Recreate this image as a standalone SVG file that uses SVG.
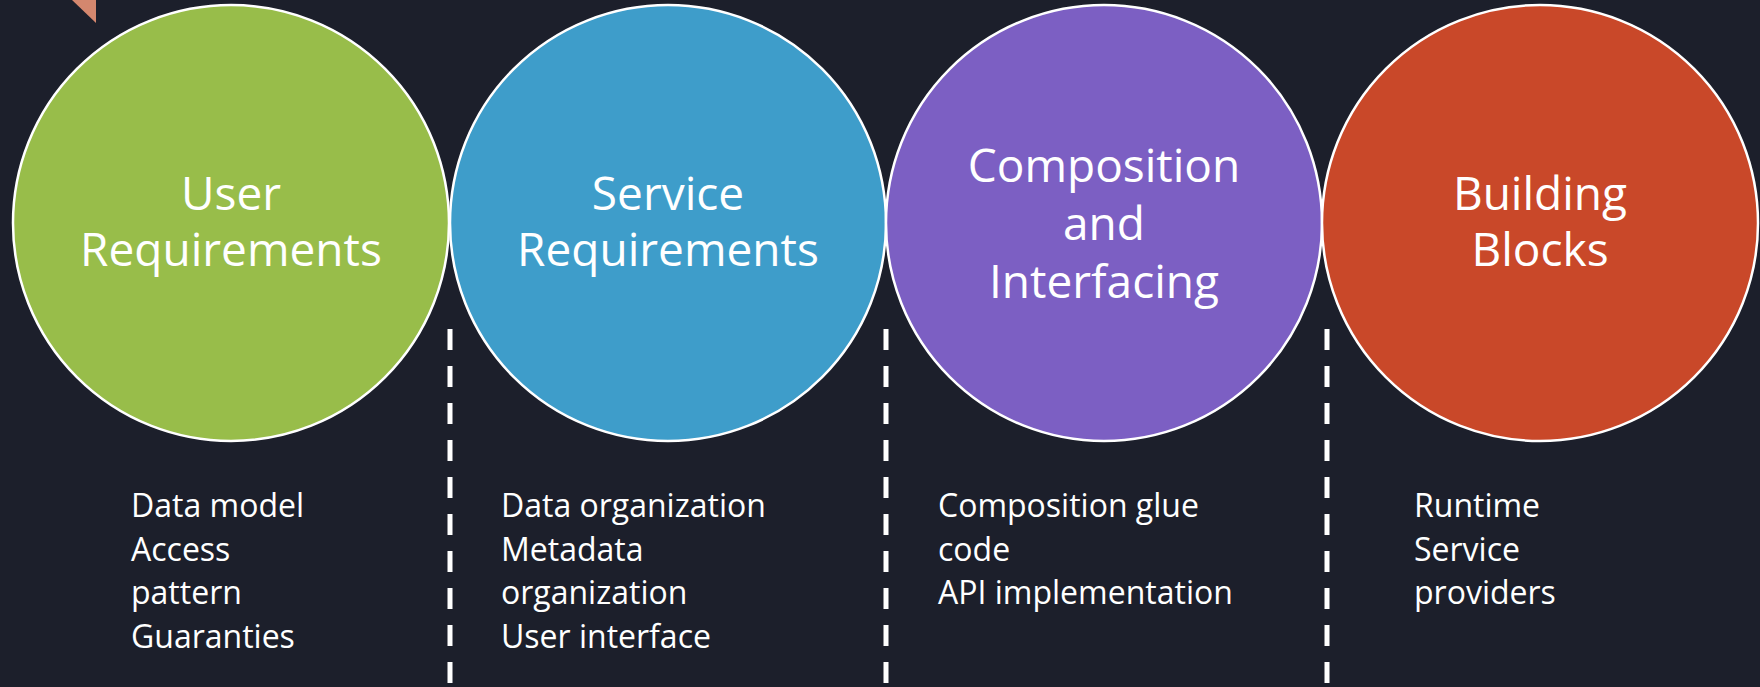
<svg xmlns="http://www.w3.org/2000/svg" width="1760" height="687" viewBox="0 0 1760 687">
  <style>
    .bg { fill: #1c1f2b; }
    .stage { stroke: #ffffff; stroke-width: 2.5; }
    .title { font-family: "Open Sans", "Liberation Sans", sans-serif; font-size: 46px; fill: #ffffff; text-anchor: middle; }
    .items { font-family: "Open Sans", "Liberation Sans", sans-serif; font-size: 32px; fill: #ffffff; }
    .divider { stroke: #ffffff; stroke-width: 5; stroke-dasharray: 21 16; fill: none; }
  </style>

  <rect class="bg" x="0" y="0" width="1760" height="687"/>

  <!-- corner accent -->
  <polygon points="72,0 96,0 96,23" fill="#d4876e"/>

  <!-- separators between the stages -->
  <g id="connectors">
    <line class="divider" x1="450" y1="329" x2="450" y2="687"/>
    <line class="divider" x1="886" y1="329" x2="886" y2="687"/>
    <line class="divider" x1="1327" y1="329" x2="1327" y2="687"/>
  </g>

  <g id="user-requirements">
    <circle class="stage" cx="231" cy="223" r="218" fill="#98bd4a"/>
    <text class="title" x="231" y="210">User</text>
    <text class="title" x="231" y="266">Requirements</text>
    <text class="items" x="131" y="517">Data model</text>
    <text class="items" x="131" y="561">Access</text>
    <text class="items" x="131" y="604">pattern</text>
    <text class="items" x="131" y="648">Guaranties</text>
  </g>

  <g id="service-requirements">
    <circle class="stage" cx="668" cy="223" r="218" fill="#3e9dca"/>
    <text class="title" x="668" y="210">Service</text>
    <text class="title" x="668" y="266">Requirements</text>
    <text class="items" x="501" y="517">Data organization</text>
    <text class="items" x="501" y="561">Metadata</text>
    <text class="items" x="501" y="604">organization</text>
    <text class="items" x="501" y="648">User interface</text>
  </g>

  <g id="composition-interfacing">
    <circle class="stage" cx="1104" cy="223" r="218" fill="#7c5fc3"/>
    <text class="title" x="1104" y="182">Composition</text>
    <text class="title" x="1104" y="240">and</text>
    <text class="title" x="1104" y="298">Interfacing</text>
    <text class="items" x="938" y="517">Composition glue</text>
    <text class="items" x="938" y="561">code</text>
    <text class="items" x="938" y="604">API implementation</text>
  </g>

  <g id="building-blocks">
    <circle class="stage" cx="1540" cy="223" r="218" fill="#c94829"/>
    <text class="title" x="1540" y="210">Building</text>
    <text class="title" x="1540" y="266">Blocks</text>
    <text class="items" x="1414" y="517">Runtime</text>
    <text class="items" x="1414" y="561">Service</text>
    <text class="items" x="1414" y="604">providers</text>
  </g>
</svg>
